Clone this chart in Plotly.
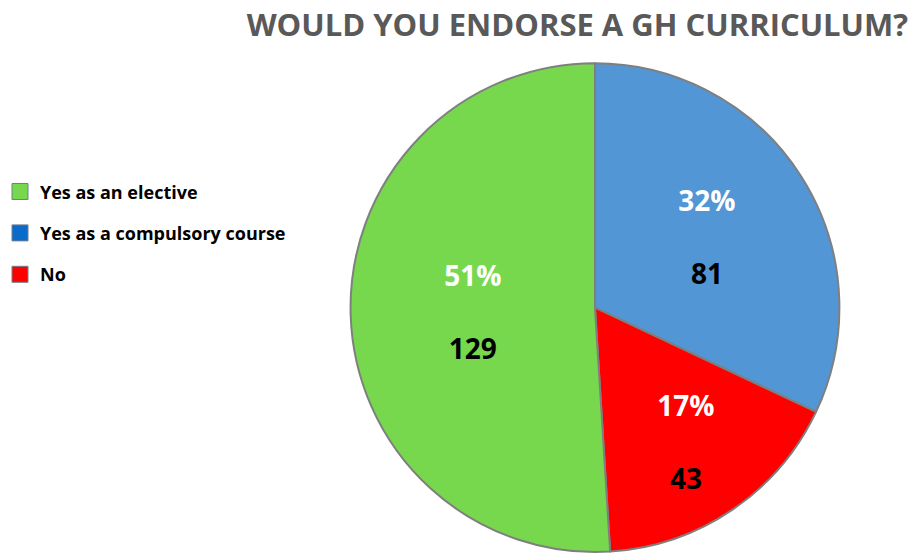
import plotly.graph_objects as go

# Data
slice_labels = ["Yes as a compulsory course", "No", "Yes as an elective"]
slice_values = [81, 43, 129]
slice_colors = ["#5296D5", "#FF0000", "#77D84E"]

legend_labels = ["Yes as an elective", "Yes as a compulsory course", "No"]
legend_colors = ["#77D84E", "#0A6BC9", "#FF0000"]

title_text = "WOULD YOU ENDORSE A GH CURRICULUM?"

FONT = "Open Sans"

fig = go.Figure()

fig.add_trace(go.Pie(
    labels=slice_labels,
    values=slice_values,
    sort=False,
    direction="clockwise",
    rotation=0,
    marker=dict(colors=slice_colors, line=dict(color="#7F7F7F", width=2)),
    texttemplate="<b>%{percent:.0%}</b><br><br><b><span style='color:black'>%{value}</span></b>",
    textposition="inside",
    insidetextorientation="horizontal",
    textfont=dict(family=FONT, size=28, color="white"),
    showlegend=False,
    hoverinfo="label+value+percent",
    domain=dict(x=[0.3825, 0.918], y=[0.0125, 0.887]),
))

for i, (name, col) in enumerate(zip(legend_labels, legend_colors)):
    fig.add_trace(go.Scatter(
        x=[None], y=[None], mode="markers", name=name,
        legendgroup="g%d" % i,
        marker=dict(symbol="square", size=18, color=col,
                    line=dict(color="#6E7F90", width=1)),
    ))

fig.update_layout(
    width=915, height=559,
    margin=dict(l=0, r=0, t=0, b=0),
    paper_bgcolor="white", plot_bgcolor="white",
    xaxis=dict(visible=False), yaxis=dict(visible=False),
    title=dict(text="<b>" + title_text + "</b>", x=0.631, xanchor="center",
               y=0.955, yanchor="middle",
               font=dict(family=FONT, size=31, color="#595959")),
    legend=dict(x=0.0, y=0.69, xanchor="left", yanchor="top",
                font=dict(family=FONT, size=18, color="black", weight="bold"),
                tracegroupgap=15,
                bgcolor="rgba(0,0,0,0)"),
)

fig.write_html("out.html")
